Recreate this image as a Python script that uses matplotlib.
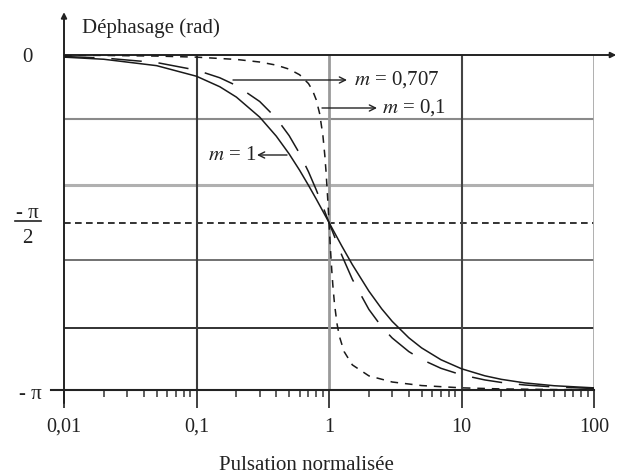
import matplotlib
matplotlib.use('Agg')
import matplotlib.pyplot as plt
import numpy as np
from matplotlib.ticker import LogLocator, NullFormatter
from matplotlib.lines import Line2D

plt.rcParams['font.family'] = ['Liberation Serif', 'DejaVu Serif']
plt.rcParams['mathtext.fontset'] = 'stix'

# ---------------- data ----------------
x_ticks = [0.01, 0.1, 1, 10, 100]
x_tick_labels = ['0,01', '0,1', '1', '10', '100']
x_label = 'Pulsation normalisée'
y_label = 'Déphasage (rad)'

freq_a = [0.01, 0.02, 0.05, 0.1, 0.15, 0.2, 0.3, 0.4, 0.5, 0.6, 0.7, 0.8, 0.9, 1.0,
          1.25, 1.5, 2, 2.5, 3, 4, 5, 7, 10, 15, 20, 30, 50, 100]
phase_m1 = [-0.0200, -0.0400, -0.0999, -0.1993, -0.2978, -0.3948, -0.5829, -0.7610,
            -0.9273, -1.0808, -1.2220, -1.3496, -1.4660, -1.5708, -1.7922, -1.9656,
            -2.2143, -2.3806, -2.4981, -2.6516, -2.7468, -2.8578, -2.9423, -3.0084,
            -3.0417, -3.0750, -3.1016, -3.1216]
phase_m0707 = [-0.0141, -0.0283, -0.0708, -0.1419, -0.2137, -0.2865, -0.4362, -0.5925,
               -0.7557, -0.9245, -1.0949, -1.2627, -1.4226, -1.5708, -1.8789, -2.1035,
               -2.3859, -2.5491, -2.6540, -2.7811, -2.8551, -2.9382, -2.9997, -3.0472,
               -3.0708, -3.0944, -3.1133, -3.1275]
freq_b = [0.01, 0.02, 0.05, 0.1, 0.2, 0.3, 0.4, 0.5, 0.6, 0.7, 0.75, 0.8, 0.85, 0.9,
          0.93, 0.95, 0.97, 0.98, 0.99, 1.0, 1.01, 1.02, 1.03, 1.05, 1.07, 1.1, 1.15,
          1.2, 1.3, 1.5, 2, 3, 5, 10, 20, 50, 100]
phase_m01 = [-0.0020, -0.0040, -0.0100, -0.0202, -0.0416, -0.0658, -0.0950, -0.1326,
             -0.1853, -0.2679, -0.3302, -0.4182, -0.5497, -0.7580, -0.9430, -1.0965,
             -1.2752, -1.3715, -1.4706, -1.5708, -1.6700, -1.7663, -1.8586, -2.0248,
             -2.1659, -2.3330, -2.5221, -2.6420, -2.7813, -2.9061, -3.0090, -3.0667,
             -3.0999, -3.1214, -3.1316, -3.1376, -3.1396]

grid_y = [-0.603, -1.219, -1.923, -2.561]
grid_x = [0.1, 1, 10, 100]

# ---------------- figure ----------------
W, H = 617, 475
fig = plt.figure(figsize=(W / 100, H / 100), dpi=100)
ax = fig.add_axes([64 / W, 1 - 390 / H, 530 / W, 335 / H])
ax.set_xscale('log')
ax.set_xlim(0.01, 100)
ax.set_ylim(-np.pi, 0)
for s in ax.spines.values():
    s.set_visible(False)
ax.set_yticks([])
ax.set_xticks(x_ticks)
ax.set_xticklabels(x_tick_labels, fontsize=14.5, color='#222')
ax.xaxis.set_minor_locator(LogLocator(base=10, subs=range(2, 10)))
ax.xaxis.set_minor_formatter(NullFormatter())
ax.tick_params(axis='x', which='major', length=13, width=1.3, color='#333',
               pad=7, direction='out')
ax.tick_params(axis='x', which='minor', length=5, width=1.1, color='#333',
               direction='out')


def px(x, y):
    return (x / W, 1 - y / H)


# horizontal grid lines
h_styles = [('#8a8a8a', 1.5), ('#b0b0b0', 2.2), ('#666666', 1.3), ('#222222', 1.3)]
for yv, (c, lw) in zip(grid_y, h_styles):
    ax.axhline(yv, color=c, lw=lw, zorder=1)
ax.axhline(-np.pi / 2, color='#111', lw=1.2, ls=(0, (4, 2.6)), zorder=1)

# vertical grid lines
v_styles = [('#3a3a3a', 1.5), ('#9a9a9a', 2.0), ('#444444', 1.5), ('#a8a8a8', 2.0)]
for xv, (c, lw) in zip(grid_x, v_styles):
    ax.plot([xv, xv], [-np.pi, 0], color=c, lw=lw, zorder=1)

# axes lines
ax.plot([-0.0245, 1.0], [0, 0], transform=ax.transAxes, color='#222', lw=1.5,
        clip_on=False, zorder=2)
ax.annotate('', xy=(1.042, 1), xytext=(0, 1), xycoords='axes fraction',
            arrowprops=dict(arrowstyle='-|>', lw=1.4, color='#222',
                            mutation_scale=8, shrinkA=0, shrinkB=0))
ax.annotate('', xy=(0, 1.128), xytext=(0, -0.039), xycoords='axes fraction',
            arrowprops=dict(arrowstyle='-|>', lw=1.4, color='#222',
                            mutation_scale=8, shrinkA=0, shrinkB=0))

# curves
ax.plot(freq_a, phase_m1, color='#1a1a1a', lw=1.1, zorder=3)
ax.plot(freq_a, phase_m0707, color='#1a1a1a', lw=1.1, ls=(0, (20, 11)), zorder=3)
ax.plot(freq_b, phase_m01, color='#1a1a1a', lw=1.1, ls=(0, (5, 4.5)), zorder=3)

# annotations
arrow_kw = dict(arrowstyle='->', lw=1.0, color='#222', shrinkA=0, shrinkB=0,
                mutation_scale=11)
ax.annotate('', xy=px(347, 80), xytext=px(233, 80), xycoords='figure fraction',
            arrowprops=arrow_kw)
ax.annotate('', xy=px(377, 108), xytext=px(322, 108), xycoords='figure fraction',
            arrowprops=arrow_kw)
ax.annotate('', xy=px(257, 155), xytext=px(287, 155), xycoords='figure fraction',
            arrowprops=arrow_kw)
fig.text(*px(354, 85), r'$m$ = 0,707', fontsize=15, ha='left', va='baseline', color='#222')
fig.text(*px(382, 113), r'$m$ = 0,1', fontsize=15, ha='left', va='baseline', color='#222')
fig.text(*px(256, 160), r'$m$ = 1', fontsize=15, ha='right', va='baseline', color='#222')

# axis labels
fig.text(*px(82, 33), y_label, fontsize=15, ha='left', va='baseline', color='#222')
fig.text(*px(306, 470), x_label, fontsize=15, ha='center', va='baseline', color='#222')

# y-value labels
fig.text(*px(27, 62), '0', fontsize=15, ha='center', va='baseline', color='#222')
fig.text(*px(30, 399), '- π', fontsize=15, ha='center', va='baseline', color='#222')
fig.text(*px(27, 218), '- π', fontsize=15, ha='center', va='baseline', color='#222')
fig.text(*px(27, 243), '2', fontsize=15, ha='center', va='baseline', color='#222')
fig.add_artist(Line2D([15 / W, 41 / W], [1 - 221 / H, 1 - 221 / H], color='#222', lw=1.2))

fig.savefig('out.png', dpi=100)
